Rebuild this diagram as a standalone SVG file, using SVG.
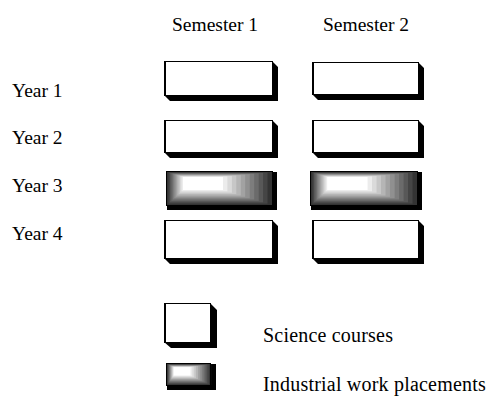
<svg xmlns="http://www.w3.org/2000/svg" width="489" height="401" viewBox="0 0 489 401">
<style>
text{font-family:"Liberation Serif","Times New Roman",serif;font-size:19.5px;fill:#000}
.leg{font-size:20px;letter-spacing:0.2px}
.face{fill:#fff;stroke:#000;stroke-width:1}
.ext{fill:#000}
.edge{stroke:#000;stroke-width:2}
</style>
<defs>
<g id="grad">
<rect x="0" y="0" width="105" height="33" fill="#333"/>
<rect x="1.45" y="0.45" width="99.1" height="31.2" fill="#454545"/>
<rect x="2.9" y="0.9" width="93.2" height="29.4" fill="#585858"/>
<rect x="4.4" y="1.4" width="87.3" height="27.5" fill="#6b6b6b"/>
<rect x="5.8" y="1.8" width="81.4" height="25.7" fill="#7d7d7d"/>
<rect x="7.3" y="2.3" width="75.5" height="23.9" fill="#909090"/>
<rect x="8.7" y="2.7" width="69.5" height="22.1" fill="#a2a2a2"/>
<rect x="10.2" y="3.2" width="63.6" height="20.3" fill="#b5b5b5"/>
<rect x="11.6" y="3.6" width="57.7" height="18.5" fill="#c7c7c7"/>
<rect x="13.1" y="4.1" width="51.8" height="16.6" fill="#dadada"/>
<rect x="14.5" y="4.5" width="45.9" height="14.8" fill="#ececec"/>
<rect x="16" y="5" width="40" height="13" fill="#fff"/>
</g>
</defs>

<g id="labels">
<text x="172" y="31">Semester 1</text>
<text x="323" y="31">Semester 2</text>
<text x="12" y="97">Year 1</text>
<text x="12" y="144">Year 2</text>
<text x="12" y="192">Year 3</text>
<text x="12" y="240">Year 4</text>
</g>

<g id="y1s1">
<polygon class="ext" points="272,61 278,67 278,101 170,101 164,95 272,95"/>
<rect class="face" x="164.5" y="61.5" width="108" height="34"/>
<line class="edge" x1="165" y1="61" x2="165" y2="96"/>
</g>
<g id="y1s2">
<polygon class="ext" points="418,62 424,68 424,100 318,100 312,94 418,94"/>
<rect class="face" x="312.5" y="62.5" width="106" height="32"/>
<line class="edge" x1="313" y1="62" x2="313" y2="95"/>
</g>
<g id="y2s1">
<polygon class="ext" points="272,120 278,126 278,158 170,158 164,152 272,152"/>
<rect class="face" x="164.5" y="120.5" width="108" height="32"/>
<line class="edge" x1="165" y1="120" x2="165" y2="153"/>
</g>
<g id="y2s2">
<polygon class="ext" points="418,120 424,126 424,158 318,158 312,152 418,152"/>
<rect class="face" x="312.5" y="120.5" width="106" height="32"/>
<line class="edge" x1="313" y1="120" x2="313" y2="153"/>
</g>

<g id="y3s1">
<rect x="167" y="172" width="110" height="38" fill="#000"/>
<use href="#grad" transform="translate(167,172)"/>
<rect x="166.5" y="171.5" width="106" height="34" fill="none" stroke="#000"/>
</g>
<g id="y3s2">
<rect x="311" y="172" width="111" height="38" fill="#000"/>
<use href="#grad" transform="translate(311,172) scale(1.01,1)"/>
<rect x="310.5" y="171.5" width="107" height="34" fill="none" stroke="#000"/>
</g>

<g id="y4s1">
<polygon class="ext" points="272,220 278,226 278,264 170,264 164,258 272,258"/>
<rect class="face" x="164.5" y="220.5" width="108" height="38"/>
<line class="edge" x1="165" y1="220" x2="165" y2="259"/>
</g>
<g id="y4s2">
<polygon class="ext" points="418,220 424,226 424,264 318,264 312,258 418,258"/>
<rect class="face" x="312.5" y="220.5" width="106" height="38"/>
<line class="edge" x1="313" y1="220" x2="313" y2="259"/>
</g>

<g id="legend-science">
<polygon class="ext" points="210,303 217,310 217,348 171,348 164,342 210,342"/>
<rect class="face" x="164.5" y="303.5" width="46" height="39"/>
<line class="edge" x1="165" y1="303" x2="165" y2="343"/>
<text class="leg" x="263" y="342">Science courses</text>
</g>
<g id="legend-industrial">
<rect x="167" y="364" width="49" height="26" fill="#000"/>
<use href="#grad" transform="translate(167,364) scale(0.42,0.64)"/>
<rect x="166.5" y="363.5" width="44" height="22" fill="none" stroke="#000"/>
<text class="leg" x="263" y="391">Industrial work placements</text>
</g>
</svg>
